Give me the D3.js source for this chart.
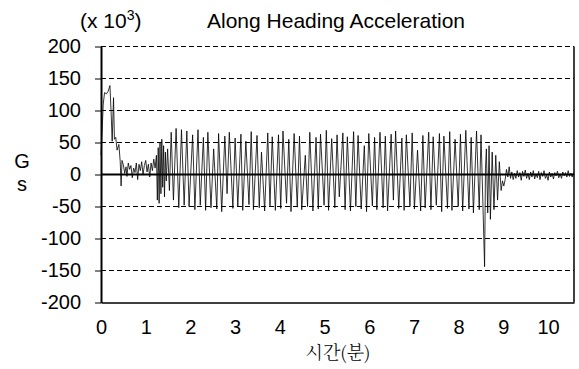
<!DOCTYPE html>
<html>
<head>
<meta charset="utf-8">
<script src="https://cdn.jsdelivr.net/npm/d3@7"></script>
<style>
  html, body { margin: 0; padding: 0; background: #fff; }
  svg { display: block; }
  text { font-family: Arial, "Liberation Sans", sans-serif; fill: #000; }
</style>
</head>
<body>
<svg id="chart" width="579" height="369"></svg>
<script>
// ---- Data (time in minutes, acceleration in x10^3 G) ----
const title = "Along Heading Acceleration";
const yUnit = "(x 10";
const yLabel = ["G", "s"];
const xLabel = "시간(분)";
const yTicks = [-200, -150, -100, -50, 0, 50, 100, 150, 200];
const xTicks = [0, 1, 2, 3, 4, 5, 6, 7, 8, 9, 10];

// launch / transition segment
const launchTime = [0.00, 0.02, 0.05, 0.08, 0.12, 0.16, 0.20, 0.23, 0.25, 0.28, 0.30, 0.33, 0.36, 0.40, 0.43, 0.45, 0.47, 0.50,
  0.53, 0.56, 0.58, 0.61, 0.64, 0.67, 0.70, 0.73, 0.76, 0.79, 0.82, 0.85, 0.88, 0.91, 0.94, 0.97, 1.00, 1.03, 1.06, 1.09,
  1.12, 1.15, 1.18, 1.21, 1.24, 1.26, 1.28, 1.30, 1.32, 1.34, 1.36, 1.38, 1.40, 1.42, 1.44, 1.46, 1.49, 1.53, 1.57, 1.62,
  1.68, 1.74, 1.80, 1.86];
const launchG = [30, 60, 110, 128, 126, 130, 139, 90, 52, 120, 55, 58, 38, 47, 20, -18, 22, 15,
  2, 12, -3, 18, 8, 14, -5, 10, 3, 18, -8, 16, 6, 20, 0, 14, 22, 4, 16, -4,
  18, 6, 24, 10, 30, -40, 42, -45, 50, -30, 55, -20, 45, -35, 35, -10, 40, -25, 66, -40,
  72, -52, 70, -48];

// steady oscillation segment
const steadyTime = [1.92, 1.97, 2.05, 2.10, 2.17, 2.22, 2.29, 2.34, 2.39, 2.46,
  2.52, 2.59, 2.63, 2.70, 2.77, 2.82, 2.87, 2.95, 3.00, 3.06,
  3.13, 3.17, 3.24, 3.31, 3.36, 3.41, 3.49, 3.54, 3.59, 3.66,
  3.73, 3.78, 3.83, 3.90, 3.97, 4.02, 4.07, 4.15, 4.20, 4.25,
  4.32, 4.39, 4.44, 4.49, 4.57, 4.62, 4.67, 4.74, 4.81, 4.86,
  4.91, 4.99, 5.04, 5.09, 5.16, 5.23, 5.28, 5.33, 5.41, 5.46,
  5.51, 5.58, 5.65, 5.70, 5.75, 5.82, 5.89, 5.94, 5.99, 6.07,
  6.12, 6.17, 6.24, 6.31, 6.36, 6.41, 6.49, 6.54, 6.59, 6.66,
  6.73, 6.78, 6.83, 6.91, 6.96, 7.01, 7.08, 7.15, 7.20, 7.25,
  7.33, 7.38, 7.43, 7.50, 7.57, 7.62, 7.67, 7.75, 7.80, 7.85,
  7.92, 7.99, 8.04, 8.09, 8.16, 8.23, 8.28, 8.33, 8.40, 8.46];
const steadyG = [68, -50, 62, -55, 70, -48, 58, -56, 66, -52,
  40, -54, 64, -58, 60, -30, 66, -53, 57, -50,
  63, -56, 52, -47, 67, -55, 61, -52, 35, -57,
  65, -49, 59, -56, 62, -53, 68, -45, 55, -58,
  64, -51, 60, -55, 30, -50, 66, -57, 58, -54,
  63, -48, 69, -56, 56, -52, 62, -35, 65, -55,
  59, -57, 67, -50, 61, -54, 45, -58, 64, -49,
  58, -55, 66, -52, 60, -57, 63, -40, 68, -53,
  57, -56, 62, -50, 65, -54, 38, -57, 61, -52,
  66, -55, 59, -48, 64, -58, 60, -53, 67, -56,
  55, -50, 63, -57, 69, -54, 58, -60, 68, -55];

// decay / landing segment
const decayTime = [8.50, 8.54, 8.58, 8.60, 8.62, 8.65, 8.68, 8.71, 8.75, 8.79, 8.83, 8.87, 8.91, 8.95, 8.98, 9.01,
  9.04, 9.07, 9.10, 9.13, 9.16, 9.19, 9.22, 9.25, 9.28, 9.31, 9.34, 9.37, 9.40, 9.43, 9.46, 9.49, 9.52, 9.55, 9.58,
  9.61, 9.64, 9.67, 9.70, 9.73, 9.76, 9.79, 9.82, 9.85, 9.88, 9.91, 9.94, 9.97, 10.00, 10.03, 10.06, 10.09, 10.12,
  10.15, 10.18, 10.21, 10.24, 10.27, 10.30, 10.33, 10.36, 10.39, 10.42, 10.45, 10.48, 10.51, 10.54, 10.57];
const decayG = [62, -40, -144, 10, 40, -60, 45, -70, 35, -55, 30, -40, 20, -25, -10, -18,
  -8, 8, -4, 12, -6, 4, -8, 2, -6, 6, -4, 3, -9, 5, -3, 7, -6, 2, -8,
  4, -4, 6, -7, 1, -5, 5, -8, 3, -3, 6, -6, -1, -9, 4, -4, 2, -7,
  3, -2, 5, -5, 1, -6, 4, -2, 3, -4, 6, -3, 2, -4, 3];

// ---- Build series ----
const times = launchTime.concat(steadyTime, decayTime);
const accel = launchG.concat(steadyG, decayG);
const series = times.map((t, i) => ({ t, g: accel[i] }));

// ---- Layout ----
const svg = d3.select("#chart");
const L = 101, R = 574, T = 46.5, B = 302.5;
const FS = 20;
const x = d3.scaleLinear().domain([0, 10.58]).range([L, R]);
const y = d3.scaleLinear().domain([-200, 200]).range([B, T]);

// gridlines (dashed)
svg.append("g").selectAll("line")
  .data(yTicks.filter(v => v !== 0 && v !== -200))
  .join("line")
  .attr("x1", L).attr("x2", R)
  .attr("y1", d => y(d)).attr("y2", d => y(d))
  .attr("stroke", "#000").attr("stroke-width", 1)
  .attr("stroke-dasharray", "5,3");

// y axis with left ticks
const yAxis = svg.append("g").attr("transform", `translate(${L},0)`)
  .call(d3.axisLeft(y).tickValues(yTicks).tickFormat(d => String(d))
    .tickSize(6).tickPadding(14).tickSizeOuter(0));
yAxis.select(".domain").attr("stroke", "#000").attr("stroke-width", 2);
yAxis.selectAll(".tick line").attr("stroke", "#000").attr("stroke-width", 1);
yAxis.selectAll(".tick text").attr("font-size", FS).attr("font-family", "Arial, 'Liberation Sans', sans-serif");

// x axis (labels only, no ticks)
const xAxis = svg.append("g").attr("transform", `translate(0,${B})`)
  .call(d3.axisBottom(x).tickValues(xTicks).tickFormat(d => String(d))
    .tickSize(0).tickPadding(17).tickSizeOuter(0));
xAxis.select(".domain").attr("stroke", "#000").attr("stroke-width", 1.5);
xAxis.selectAll(".tick text").attr("font-size", FS).attr("font-family", "Arial, 'Liberation Sans', sans-serif");

// right border
svg.append("line").attr("x1", R).attr("x2", R).attr("y1", y(200)).attr("y2", B)
  .attr("stroke", "#000").attr("stroke-width", 1.5);

// signal
const line = d3.line().x(d => x(d.t)).y(d => y(d.g));
svg.append("path").datum(series)
  .attr("d", line)
  .attr("fill", "none")
  .attr("stroke", "#000")
  .attr("stroke-width", 0.8)
  .attr("stroke-linejoin", "miter");

// zero line
svg.append("line").attr("x1", L).attr("x2", R).attr("y1", y(0)).attr("y2", y(0))
  .attr("stroke", "#000").attr("stroke-width", 2);

// title
svg.append("text").attr("x", 207).attr("y", 28).attr("text-anchor", "start")
  .attr("font-size", 21).text(title);

// unit
const u = svg.append("text").attr("x", 80).attr("y", 28).attr("font-size", 21);
u.append("tspan").text(yUnit);
u.append("tspan").attr("dy", -8).attr("font-size", 14).text("3");
u.append("tspan").attr("dy", 8).text(")");

// y label stacked
svg.append("text").attr("x", 22).attr("y", 168).attr("text-anchor", "middle").attr("font-size", FS).text(yLabel[0]);
svg.append("text").attr("x", 22).attr("y", 191).attr("text-anchor", "middle").attr("font-size", FS).text(yLabel[1]);

// x label
svg.append("text").attr("x", 338).attr("y", 359).attr("text-anchor", "middle")
  .attr("font-size", 18)
  .style("font-family", "'Noto Serif CJK KR', 'Noto Sans CJK KR', serif")
  .style("font-weight", 300)
  .text(xLabel);
</script>
</body>
</html>
